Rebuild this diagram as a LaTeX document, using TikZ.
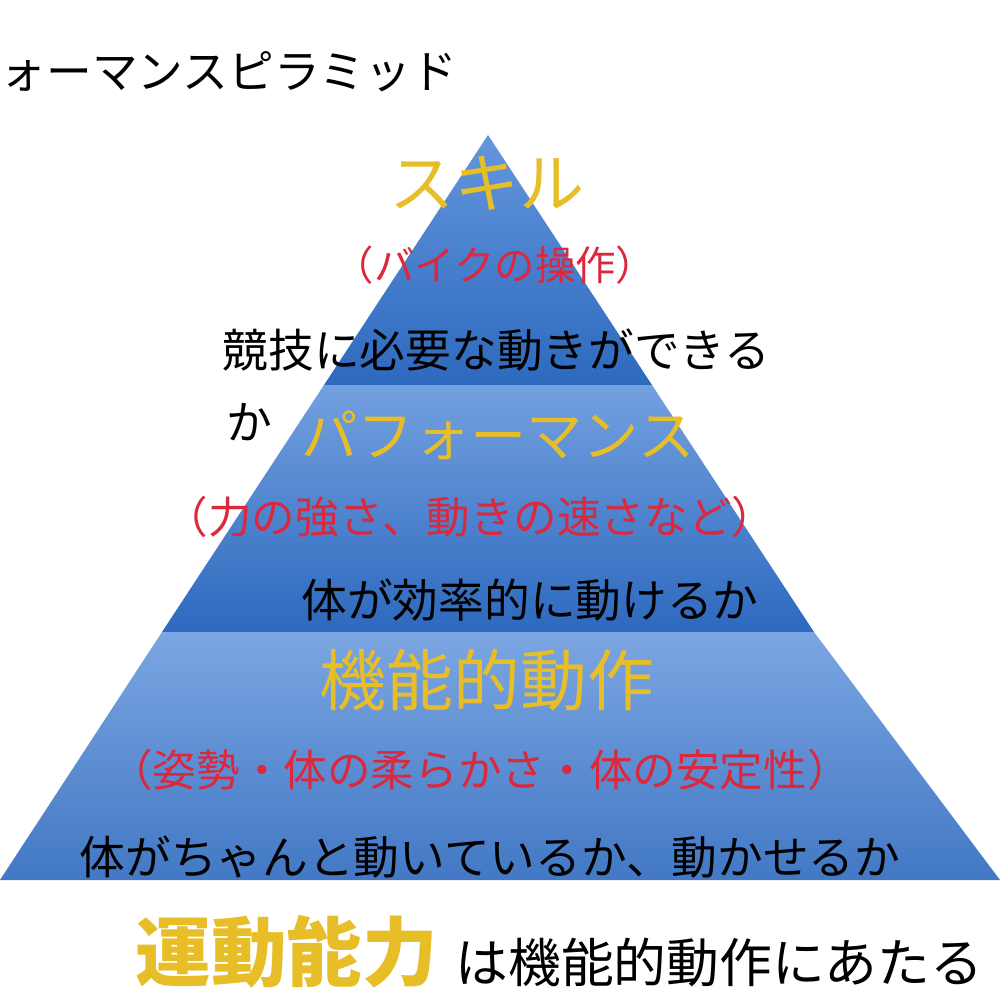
\documentclass[tikz,border=0pt]{standalone}
\usepackage{fontspec}
\setmainfont{Noto Sans CJK JP}
\definecolor{yel}{RGB}{232,190,40}
\definecolor{rd}{RGB}{220,40,60}
\definecolor{bt}{RGB}{100,150,220}
\definecolor{bb}{RGB}{45,105,190}
\tikzset{
 t/.style={inner sep=0pt,anchor=center},
 fs/.style={font=\fontsize{#1}{#1}\selectfont},
}
\begin{document}
\begin{tikzpicture}[x=0.01cm,y=-0.01cm]
\useasboundingbox (0,0) rectangle (1000,1000);
\coordinate (A) at (488,135);
\coordinate (L) at (0,880);
\coordinate (R) at (1000,880);
% tiers
\shade[top color=bt,bottom color=bb] (A) -- (324,385) -- (652,385) -- cycle;
\shade[top color=bt!90!white,bottom color=bb] (324,385) -- (652,385) -- (814,632) -- (162,632) -- cycle;
\shade[top color=bt!85!white,bottom color=bb!90!white] (162,632) -- (814,632) -- (R) -- (L) -- cycle;
\node[t,fs=13,anchor=west] (title) at (0,72) {ォーマンスピラミッド};
\node[t,fs=18.5,text=yel] (s1) at (487,183) {スキル};
\node[t,fs=11.5,text=rd] (s2) at (495,265) {（バイクの操作）};
\node[t,fs=13,anchor=west] (s3) at (222,350) {競技に必要な動きができる};
\node[t,fs=13,anchor=west] (s4) at (226,422) {か};
\node[t,fs=16,text=yel] (p1) at (498,435) {パフォーマンス};
\node[t,fs=12.4,text=rd] (p2) at (470,517) {（力の強さ、動きの速さなど）};
\node[t,fs=13] (p3) at (530,600) {体が効率的に動けるか};
\node[t,fs=19,text=yel] (f1) at (487,680) {機能的動作};
\node[t,fs=12.4,text=rd] (f2) at (480,770) {（姿勢・体の柔らかさ・体の安定性）};
\node[t,fs=13] (f3) at (490,857) {体がちゃんと動いているか、動かせるか};
\node[t,fs=21.5,text=yel,anchor=west] (u1) at (135,952) {\bfseries 運動能力};
\node[t,fs=15,anchor=west] (u2) at (455,962) {は機能的動作にあたる};
\end{tikzpicture}
\end{document}
